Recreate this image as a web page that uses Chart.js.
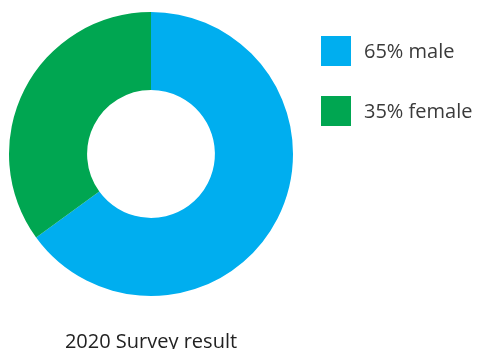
<!DOCTYPE html>
<html>
<head>
<meta charset="utf-8">
<script src="https://cdn.jsdelivr.net/npm/chart.js@4"></script>
<style>
  html, body { margin: 0; padding: 0; background: #fff; }
  #wrap { position: relative; width: 480px; height: 349px; }
</style>
</head>
<body>
<div id="wrap"><canvas id="surveyChart" width="480" height="349"></canvas></div>
<script>
// data
const categories = ['male', 'female'];
const shares = [65, 35];
const sliceColors = ['#00AEEF', '#00A651'];
const chartTitle = '2020 Survey result';

// legend + title drawn next to the doughnut
const sideText = {
  id: 'sideText',
  afterDraw(chart) {
    const c = chart.ctx;
    const arc = chart.getDatasetMeta(0).data[0];
    c.save();
    categories.forEach((name, i) => {
      const y = 36 + i * 60;
      c.fillStyle = sliceColors[i];
      c.fillRect(321, y, 30, 30);
      c.fillStyle = '#3a3a3a';
      c.font = '20px "Open Sans", sans-serif';
      c.textBaseline = 'middle';
      c.textAlign = 'left';
      c.fillText(shares[i] + '% ' + name, 364, y + 16);
    });
    c.fillStyle = '#222';
    c.font = '20px "Open Sans", sans-serif';
    c.textAlign = 'center';
    c.textBaseline = 'alphabetic';
    c.fillText(chartTitle, arc.x, 348);
    c.restore();
  }
};

new Chart(document.getElementById('surveyChart'), {
  type: 'doughnut',
  data: {
    labels: categories,
    datasets: [{
      data: shares,
      backgroundColor: sliceColors,
      borderWidth: 0
    }]
  },
  options: {
    responsive: false,
    animation: false,
    cutout: '45%',
    layout: { padding: { left: 9, top: 12, right: 187, bottom: 53 } },
    plugins: {
      legend: { display: false },
      tooltip: { enabled: false }
    }
  },
  plugins: [sideText]
});
</script>
</body>
</html>
